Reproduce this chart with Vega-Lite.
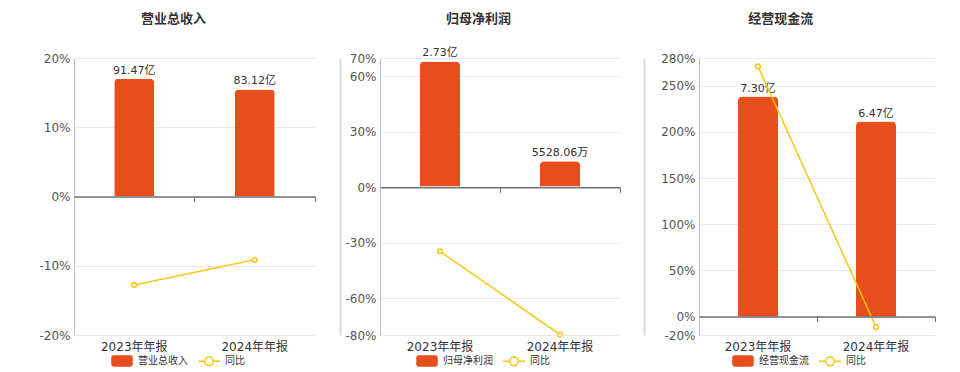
{
  "$schema": "https://vega.github.io/schema/vega-lite/v6.json",
  "padding": {"left": 38, "top": 13, "right": 5, "bottom": 0},
  "config": {
    "font": "DejaVu Sans, Noto Sans CJK SC, sans-serif",
    "view": {"stroke": null},
    "axis": {"labelFont": "DejaVu Sans, Noto Sans CJK SC, sans-serif", "labelFontSize": 12, "labelColor": "#555"},
    "title": {"fontSize": 13, "fontWeight": "bold", "color": "#333", "anchor": "middle", "frame": "bounds", "offset": 26},
    "legend": {"labelFont": "DejaVu Sans, Noto Sans CJK SC, sans-serif", "labelFontSize": 10, "labelColor": "#333"}
  },
  "datasets": {
    "d": [
      {"metric": "营业总收入", "period": "2023年年报", "value": 91.47, "label": "91.47亿", "yoy": -12.77},
      {"metric": "营业总收入", "period": "2024年年报", "value": 83.12, "label": "83.12亿", "yoy": -9.13},
      {"metric": "归母净利润", "period": "2023年年报", "value": 2.73, "label": "2.73亿", "yoy": -34.7},
      {"metric": "归母净利润", "period": "2024年年报", "value": 0.5528, "label": "5528.06万", "yoy": -79.75},
      {"metric": "经营现金流", "period": "2023年年报", "value": 7.30, "label": "7.30亿", "yoy": 270.9},
      {"metric": "经营现金流", "period": "2024年年报", "value": 6.47, "label": "6.47亿", "yoy": -11.37}
    ]
  },
  "data": {"name": "d"},
  "spacing": 4,
  "hconcat": [
    {
      "title": {"text": "营业总收入", "offset": 26, "dx": -16},
      "width": 241, "height": 277,
      "transform": [{"filter": "datum.metric === '营业总收入'"}],
      "layer": [
        {
          "encoding": {
            "x": {"field": "period", "type": "nominal", "sort": null, "scale": {"paddingInner": 0, "paddingOuter": 0},
              "axis": {"orient": "bottom", "offset": -138.5, "labels": false, "title": null, "domainColor": "#6E7079", "domainWidth": 1.5, "tickColor": "#6E7079", "tickSize": 5, "tickWidth": 1, "bandPosition": 1, "grid": false, "zindex": 1}},
            "y": {"field": "value", "type": "quantitative", "scale": {"domain": [-107.5, 107.5], "nice": false, "zero": false},
              "axis": {"orient": "right", "offset": 25, "labels": false, "ticks": false, "grid": false, "title": null, "domainColor": "#DCDCDC", "domainWidth": 2}}
          },
          "layer": [
            {"mark": {"type": "bar", "width": 40, "cornerRadiusTopLeft": 4, "cornerRadiusTopRight": 4},
              "encoding": {"color": {"datum": "营业总收入", "type": "nominal", "scale": {"domain": ["营业总收入", "同比"], "range": ["#E84D1C", "#F5C818"]},
                "legend": {"orient": "none", "legendX": 36, "legendY": 291, "title": null, "direction": "horizontal", "symbolSize": 484, "labelOffset": 4, "columnPadding": 7,
                  "encode": {"symbols": {"update": {
                    "shape": {"signal": "datum.value === '同比' ? 'M-1,0H-0.4M0.4,0H1M0.4,0A0.4,0.4,0,1,1,-0.4,0A0.4,0.4,0,1,1,0.4,0ZM0.39,0A0.39,0.39,0,1,0,-0.39,0A0.39,0.39,0,1,0,0.39,0Z' : 'M-0.76,-0.45H0.76A0.15,0.15,0,0,1,0.91,-0.3V0.3A0.15,0.15,0,0,1,0.76,0.45H-0.76A0.15,0.15,0,0,1,-0.91,0.3V-0.3A0.15,0.15,0,0,1,-0.76,-0.45Z'"},
                    "stroke": {"signal": "datum.value === '同比' ? '#F5C818' : '#E84D1C'"},
                    "strokeWidth": {"value": 1.5},
                    "opacity": {"value": 1},
                    "fillOpacity": {"value": 1}
                  }}}}}}},
            {"mark": {"type": "text", "dy": -8, "fontSize": 11, "color": "#333"}, "encoding": {"text": {"field": "label"}}}
          ]
        },
        {
          "encoding": {
            "x": {"field": "period", "type": "nominal", "sort": null, "axis": {"orient": "bottom", "title": null, "domain": false, "ticks": false, "labelAngle": 0, "labelFontSize": 12, "labelColor": "#333", "labelPadding": 6, "grid": false}},
            "y": {"field": "yoy", "type": "quantitative", "scale": {"domain": [-20, 20], "nice": false},
              "axis": {"orient": "left", "values": [-20, -10, 0, 10, 20], "labelExpr": "datum.value + '%'", "title": null, "grid": true, "gridColor": "#E6EAF2", "domainColor": "#B8BDCB", "ticks": false, "labelPadding": 4}}
          },
          "layer": [
            {"mark": {"type": "line", "strokeWidth": 1.5}, "encoding": {"color": {"datum": "同比", "type": "nominal"}}},
            {"mark": {"type": "circle", "size": 22, "fill": "white", "stroke": "#F5C818", "strokeWidth": 1.5, "opacity": 1}}
          ]
        }
      ],
      "resolve": {"scale": {"y": "independent"}, "axis": {"x": "independent"}}
    },
    {
      "title": {"text": "归母净利润", "offset": 21, "dx": -16},
      "width": 240, "height": 277,
      "transform": [{"filter": "datum.metric === '归母净利润'"}],
      "layer": [
        {
          "encoding": {
            "x": {"field": "period", "type": "nominal", "sort": null, "scale": {"paddingInner": 0, "paddingOuter": 0},
              "axis": {"orient": "bottom", "offset": -147.7, "labels": false, "title": null, "domainColor": "#6E7079", "domainWidth": 1.5, "tickColor": "#6E7079", "tickSize": 5, "tickWidth": 1, "bandPosition": 1, "grid": false, "zindex": 1}},
            "y": {"field": "value", "type": "quantitative", "scale": {"domain": [-3.239, 2.804], "nice": false, "zero": false},
              "axis": {"orient": "right", "offset": 24, "labels": false, "ticks": false, "grid": false, "title": null, "domainColor": "#DCDCDC", "domainWidth": 2}}
          },
          "layer": [
            {"mark": {"type": "bar", "width": 40, "cornerRadiusTopLeft": 4, "cornerRadiusTopRight": 4},
              "encoding": {"color": {"datum": "归母净利润", "type": "nominal", "scale": {"domain": ["归母净利润", "同比"], "range": ["#E84D1C", "#F5C818"]},
                "legend": {"orient": "none", "legendX": 35, "legendY": 291, "title": null, "direction": "horizontal", "symbolSize": 484, "labelOffset": 4, "columnPadding": 7,
                  "encode": {"symbols": {"update": {
                    "shape": {"signal": "datum.value === '同比' ? 'M-1,0H-0.4M0.4,0H1M0.4,0A0.4,0.4,0,1,1,-0.4,0A0.4,0.4,0,1,1,0.4,0ZM0.39,0A0.39,0.39,0,1,0,-0.39,0A0.39,0.39,0,1,0,0.39,0Z' : 'M-0.76,-0.45H0.76A0.15,0.15,0,0,1,0.91,-0.3V0.3A0.15,0.15,0,0,1,0.76,0.45H-0.76A0.15,0.15,0,0,1,-0.91,0.3V-0.3A0.15,0.15,0,0,1,-0.76,-0.45Z'"},
                    "stroke": {"signal": "datum.value === '同比' ? '#F5C818' : '#E84D1C'"},
                    "strokeWidth": {"value": 1.5},
                    "opacity": {"value": 1},
                    "fillOpacity": {"value": 1}
                  }}}}}}},
            {"mark": {"type": "text", "dy": -8, "fontSize": 11, "color": "#333"}, "encoding": {"text": {"field": "label"}}}
          ]
        },
        {
          "encoding": {
            "x": {"field": "period", "type": "nominal", "sort": null, "axis": {"orient": "bottom", "title": null, "domain": false, "ticks": false, "labelAngle": 0, "labelFontSize": 12, "labelColor": "#333", "labelPadding": 6, "grid": false}},
            "y": {"field": "yoy", "type": "quantitative", "scale": {"domain": [-80, 70], "nice": false},
              "axis": {"orient": "left", "values": [-80, -60, -30, 0, 30, 60, 70], "labelExpr": "datum.value + '%'", "title": null, "grid": true, "gridColor": "#E6EAF2", "domainColor": "#B8BDCB", "ticks": false, "labelPadding": 4}}
          },
          "layer": [
            {"mark": {"type": "line", "strokeWidth": 1.5}, "encoding": {"color": {"datum": "同比", "type": "nominal"}}},
            {"mark": {"type": "circle", "size": 22, "fill": "white", "stroke": "#F5C818", "strokeWidth": 1.5, "opacity": 1}}
          ]
        }
      ],
      "resolve": {"scale": {"y": "independent"}, "axis": {"x": "independent"}}
    },
    {
      "title": {"text": "经营现金流", "offset": 26, "dx": -11},
      "width": 236, "height": 277,
      "transform": [{"filter": "datum.metric === '经营现金流'"}],
      "layer": [
        {
          "encoding": {
            "x": {"field": "period", "type": "nominal", "sort": null, "scale": {"paddingInner": 0, "paddingOuter": 0},
              "axis": {"orient": "bottom", "offset": -18.5, "labels": false, "title": null, "domainColor": "#6E7079", "domainWidth": 1.5, "tickColor": "#6E7079", "tickSize": 5, "tickWidth": 1, "bandPosition": 1, "grid": false, "zindex": 1}},
            "y": {"field": "value", "type": "quantitative", "scale": {"domain": [-0.609, 8.578], "nice": false, "zero": false}, "axis": null}
          },
          "layer": [
            {"mark": {"type": "bar", "width": 40, "cornerRadiusTopLeft": 4, "cornerRadiusTopRight": 4},
              "encoding": {"color": {"datum": "经营现金流", "type": "nominal", "scale": {"domain": ["经营现金流", "同比"], "range": ["#E84D1C", "#F5C818"]},
                "legend": {"orient": "none", "legendX": 32, "legendY": 291, "title": null, "direction": "horizontal", "symbolSize": 484, "labelOffset": 4, "columnPadding": 7,
                  "encode": {"symbols": {"update": {
                    "shape": {"signal": "datum.value === '同比' ? 'M-1,0H-0.4M0.4,0H1M0.4,0A0.4,0.4,0,1,1,-0.4,0A0.4,0.4,0,1,1,0.4,0ZM0.39,0A0.39,0.39,0,1,0,-0.39,0A0.39,0.39,0,1,0,0.39,0Z' : 'M-0.76,-0.45H0.76A0.15,0.15,0,0,1,0.91,-0.3V0.3A0.15,0.15,0,0,1,0.76,0.45H-0.76A0.15,0.15,0,0,1,-0.91,0.3V-0.3A0.15,0.15,0,0,1,-0.76,-0.45Z'"},
                    "stroke": {"signal": "datum.value === '同比' ? '#F5C818' : '#E84D1C'"},
                    "strokeWidth": {"value": 1.5},
                    "opacity": {"value": 1},
                    "fillOpacity": {"value": 1}
                  }}}}}}},
            {"mark": {"type": "text", "dy": -8, "fontSize": 11, "color": "#333"}, "encoding": {"text": {"field": "label"}}}
          ]
        },
        {
          "encoding": {
            "x": {"field": "period", "type": "nominal", "sort": null, "axis": {"orient": "bottom", "title": null, "domain": false, "ticks": false, "labelAngle": 0, "labelFontSize": 12, "labelColor": "#333", "labelPadding": 6, "grid": false}},
            "y": {"field": "yoy", "type": "quantitative", "scale": {"domain": [-20, 280], "nice": false},
              "axis": {"orient": "left", "values": [-20, 0, 50, 100, 150, 200, 250, 280], "labelExpr": "datum.value + '%'", "title": null, "grid": true, "gridColor": "#E6EAF2", "domainColor": "#B8BDCB", "ticks": false, "labelPadding": 4, "minExtent": 51}}
          },
          "layer": [
            {"mark": {"type": "line", "strokeWidth": 1.5}, "encoding": {"color": {"datum": "同比", "type": "nominal"}}},
            {"mark": {"type": "circle", "size": 22, "fill": "white", "stroke": "#F5C818", "strokeWidth": 1.5, "opacity": 1}}
          ]
        }
      ],
      "resolve": {"scale": {"y": "independent"}, "axis": {"x": "independent"}}
    }
  ],
  "resolve": {"scale": {"color": "independent"}, "legend": {"color": "independent"}}
}
